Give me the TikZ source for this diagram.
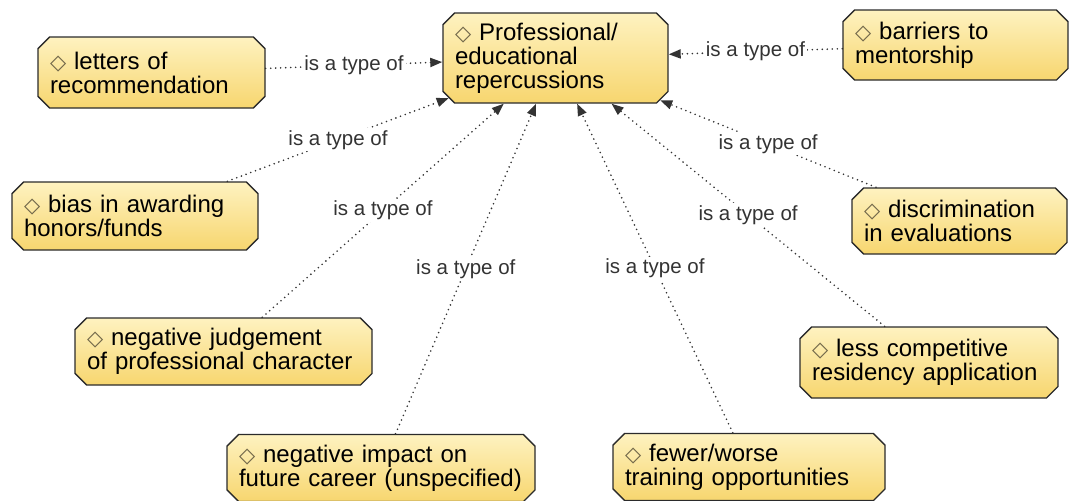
\documentclass[tikz,border=0pt]{standalone}
\usepackage{fontspec}
\setmainfont{Liberation Sans}
\newfontfamily\symfont{DejaVu Sans}
\usetikzlibrary{arrows.meta,shapes.misc}

\definecolor{conceptTop}{HTML}{FEF2C0}
\definecolor{conceptBot}{HTML}{F7D66F}
\definecolor{conceptLine}{HTML}{2B2B2B}
\definecolor{diamondGray}{HTML}{6F6548}
\definecolor{linkGray}{HTML}{333333}
\newcommand{\dmd}{{\symfont\fontsize{21}{21}\selectfont\color{diamondGray}◇}\ }

\tikzset{
  concept/.style={chamfered rectangle, chamfered rectangle angle=45, chamfered rectangle xsep=8pt,
    draw=conceptLine, line width=1.4pt, top color=conceptTop, bottom color=conceptBot,
    align=left, inner xsep=4pt, inner ysep=2pt, font=\fontsize{24}{24}\selectfont},
  isa/.style={linkGray, line width=1.8pt, dash pattern=on 0pt off 5pt, line cap=round,
    -{Triangle[length=12pt,width=9pt]}},
  isalabel/.style={fill=white, inner sep=2pt, text=linkGray, font=\fontsize{20.5}{21}\selectfont}
}

\begin{document}
\begin{tikzpicture}[x=1pt,y=-1pt]
	\useasboundingbox (0,0) rectangle (1069,501);
	% the central concept
	\node[concept, text width=201pt, minimum height=90pt] (prof) at (555.5,58) {\dmd Professional/\\educational\\repercussions};
	% its types
	\node[concept, text width=203pt, minimum height=71pt] (letters) at (151.5,72.5) {\dmd letters of\\recommendation};
	\node[concept, text width=201pt, minimum height=70pt] (barriers) at (955.5,45) {\dmd barriers to\\mentorship};
	\node[concept, text width=222pt, minimum height=68pt] (bias) at (135,216) {\dmd bias in awarding\\honors/funds};
	\node[concept, text width=191pt, minimum height=66pt] (discrim) at (959.5,221) {\dmd discrimination\\in evaluations};
	\node[concept, text width=273pt, minimum height=67pt] (judgement) at (223.5,351.5) {\dmd negative judgement\\of professional character};
	\node[concept, text width=234pt, minimum height=71pt] (competitive) at (929,362.5) {\dmd less competitive\\residency application};
	\node[concept, text width=248pt, minimum height=67pt] (fewer) at (749,467) {\dmd fewer/worse\\training opportunities};
	\node[concept, text width=284pt, minimum height=67pt] (impact) at (381,468) {\dmd negative impact on\\future career (unspecified)};
	% links
	\foreach \src in {letters,barriers,bias,discrim,judgement,competitive,fewer,impact}
		\draw[isa] (\src) -- node[isalabel] {is a type of} (prof);
\end{tikzpicture}
\end{document}
